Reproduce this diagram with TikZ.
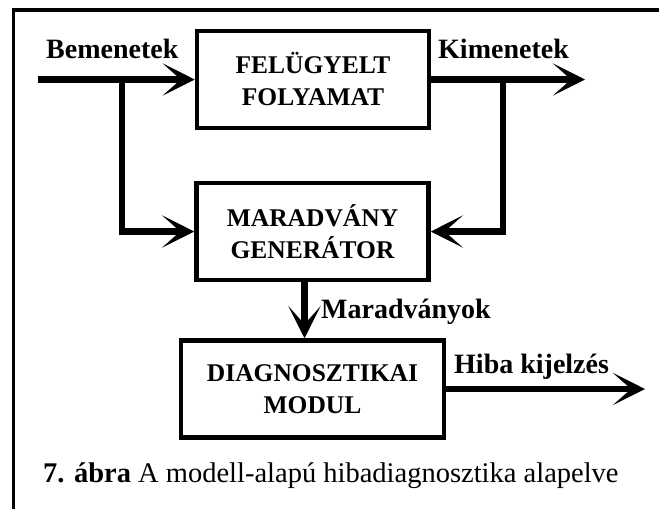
\documentclass[tikz,border=0pt]{standalone}
\usepackage{fontspec}
\setmainfont{Liberation Serif}
\usetikzlibrary{positioning, arrows.meta, calc}

\begin{document}
\begin{tikzpicture}[x=1pt, y=-1pt]
  \tikzstyle{blokk} = [draw, line width=4.5pt, minimum width=232pt, minimum height=97pt, align=center, inner sep=0pt, font=\fontsize{25.5}{32}\selectfont\bfseries]
  \tikzstyle{jel} = [line width=6.5pt, -{Stealth[length=32pt, width=32pt, inset=18pt]}]
  \tikzstyle{felirat} = [anchor=base west, inner sep=0pt, font=\fontsize{28}{30}\selectfont\bfseries]

  \useasboundingbox (0,0) rectangle (659,509);
  % keret
  \draw[line width=3.5pt] (13.5,509) -- (13.5,10) -- (659,10);

  % blokkok
  \node[blokk] (folyamat) at (313,79.5) {FELÜGYELT\\FOLYAMAT};
  \node[blokk] (generator) at (312.5,231.5) {MARADVÁNY\\GENERÁTOR};
  \node[blokk, minimum width=263pt] (modul) at (312.5,389) {DIAGNOSZTIKAI\\MODUL};

  \coordinate (be) at (38,79.5);
  \coordinate (beag) at (122,79.5);
  \coordinate (kiag) at (503,79.5);
  \coordinate (ki) at (585,79.5);
  \coordinate (hiba) at (645,389);

  % jelek
  \draw[jel] (be) -- (folyamat.west);
  \draw[jel] (beag) |- (generator.west);
  \draw[jel] (folyamat.east) -- (ki);
  \draw[jel] (kiag) |- (generator.east);
  \draw[jel] ([xshift=-8pt]generator.south) -- ([xshift=-8pt]modul.north);
  \draw[jel] (modul.east) -- (hiba);

  \node[felirat] (bemenet) at (46,58) {Bemenetek};
  \node[felirat] (kimenet) at (438,58) {Kimenetek};
  \node[felirat] (maradvany) at (321,318) {Maradványok};
  \node[felirat] (hibajel) at (454,373) {Hiba kijelzés};

  \node[anchor=base west, inner sep=0pt, font=\fontsize{28.5}{30}\selectfont] (abra) at (43,482) {\textbf{7. ábra} A modell-alapú hibadiagnosztika alapelve};
\end{tikzpicture}
\end{document}
